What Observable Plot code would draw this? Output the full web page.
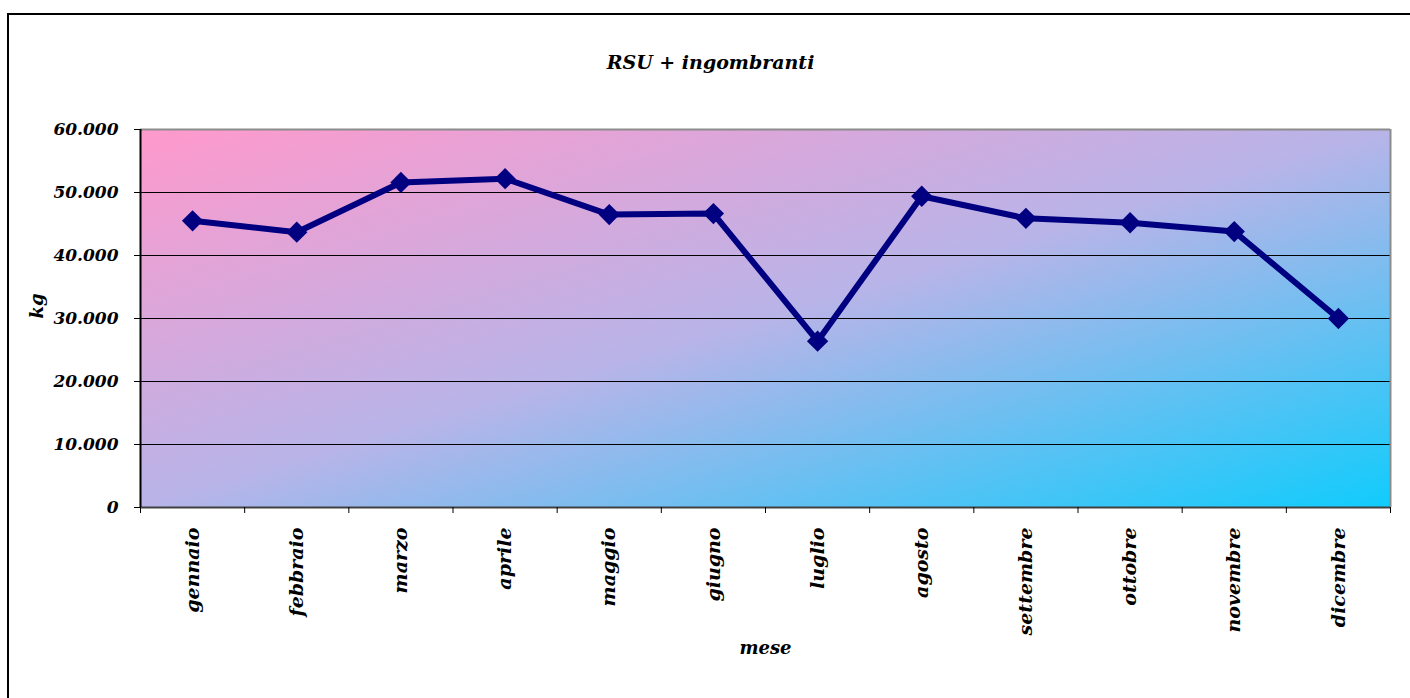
<!DOCTYPE html>
<html>
<head>
<meta charset="utf-8">
<script src="https://cdn.jsdelivr.net/npm/d3@7"></script>
<script src="https://cdn.jsdelivr.net/npm/@observablehq/plot@0.6"></script>
<style>
  html, body { margin: 0; padding: 0; background: #fff; overflow: hidden; }
  #wrap { position: relative; width: 1410px; height: 698px; }
  #border { position: absolute; left: 7px; top: 13px; width: 1500px; height: 800px;
            border-left: 2px solid #000; border-top: 2px solid #000; box-sizing: border-box; }
  #chart { position: absolute; left: 0; top: 0; }
</style>
</head>
<body>
<div id="wrap">
  <div id="border"></div>
  <div id="chart"></div>
</div>
<script>
const titleText = "RSU + ingombranti";
const xTitle = "mese";
const yTitle = "kg";
const months = ["gennaio", "febbraio", "marzo", "aprile", "maggio", "giugno",
                "luglio", "agosto", "settembre", "ottobre", "novembre", "dicembre"];
const values = [45500, 43700, 51600, 52200, 46500, 46650, 26400, 49400, 45900, 45200, 43800, 30000];
const yTicks = [0, 10000, 20000, 30000, 40000, 50000, 60000];
const gridTicks = [10000, 20000, 30000, 40000, 50000];

const data = months.map((m, i) => ({i, month: m, value: values[i]}));
const fmt = d3.formatLocale({decimal: ",", thousands: ".", grouping: [3], currency: ["", "€"]}).format(",d");
const font = {fontFamily: "DejaVu Serif", fontStyle: "italic", fontWeight: "bold"};

const svg = Plot.plot({
  width: 1410,
  height: 698,
  marginLeft: 140,
  marginRight: 20,
  marginTop: 129,
  marginBottom: 191,
  style: {background: "transparent", overflow: "visible", color: "#000"},
  x: {domain: [-0.5, 11.5], axis: null, label: null},
  y: {domain: [0, 60000], axis: null, label: null},
  marks: [
    Plot.frame({fill: "url(#bg)", stroke: null}),
    Plot.gridY(gridTicks, {stroke: "#000", strokeOpacity: 1, strokeWidth: 1}),
    Plot.ruleY([60000], {stroke: "#8c8c8c", strokeWidth: 2}),
    Plot.ruleX([11.5], {stroke: "#8c8c8c", strokeWidth: 2}),
    Plot.axisY(yTicks, {tickFormat: fmt, tickSize: 6, tickPadding: 16, fontSize: 17, label: null, ...font}),
    Plot.ruleY([0], {stroke: "#404040", strokeWidth: 2}),
    Plot.ruleX([-0.5], {stroke: "#000", strokeWidth: 2}),
    Plot.axisX(d3.range(13).map(i => i - 0.5), {tickSize: 6, tickFormat: () => "", label: null}),
    Plot.axisX(d3.range(12), {tickSize: 0, tickPadding: 20, tickRotate: -90,
      tickFormat: i => months[i], fontSize: 19, label: null, ...font}),
    Plot.line(data, {x: "i", y: "value", stroke: "#000080", strokeWidth: 6}),
    Plot.dot(data, {x: "i", y: "value", symbol: "diamond2", r: 9.6, fill: "#000080", stroke: null}),
    Plot.text([yTitle], {text: d => d, frameAnchor: "left", dx: -103, rotate: -90, fontSize: 18, ...font}),
    Plot.text([xTitle], {text: d => d, frameAnchor: "bottom", dy: 146, fontSize: 18, ...font}),
    Plot.text([titleText], {text: d => d, frameAnchor: "top", dx: -55, dy: -74, fontSize: 19, ...font})
  ]
});

const defs = d3.select(svg).insert("defs", ":first-child");
const g = defs.append("linearGradient").attr("id", "bg")
  .attr("x1", 0).attr("y1", 0).attr("x2", 1).attr("y2", 1);
g.append("stop").attr("offset", "0%").attr("stop-color", "#FF99CC");
g.append("stop").attr("offset", "50%").attr("stop-color", "#B8B4E8");
g.append("stop").attr("offset", "100%").attr("stop-color", "#10CCFC");

document.getElementById("chart").appendChild(svg);
</script>
</body>
</html>
